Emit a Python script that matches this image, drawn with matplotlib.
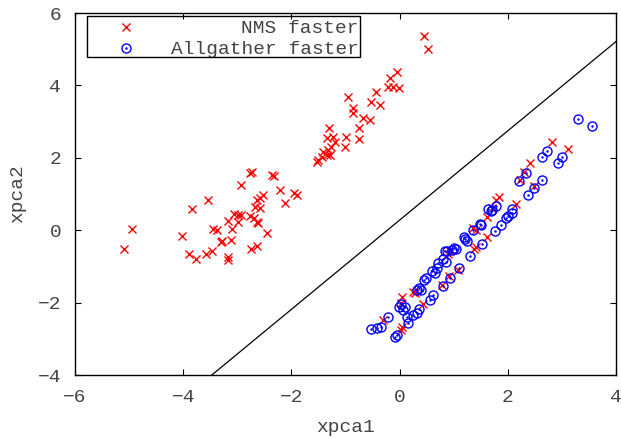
import matplotlib
matplotlib.use('Agg')
import matplotlib.pyplot as plt
from matplotlib.patches import Rectangle

# red: NMS faster
nms_x = [-5.09, -4.95, -4.02, -3.84, -3.89, -3.76, -3.54, -3.57, -3.47, -3.17,
         -3.30, -3.12, -3.45, -3.38, -3.18, -3.07, -3.09, -2.93, -2.98, -2.93,
         -2.77, -2.73, -2.36, -2.33, -2.75, -2.64, -2.77, -2.69, -2.64, -2.62,
         -2.67, -2.64, -2.59, -2.53, -2.58, -2.46, -2.22, -2.11, -1.96, -1.90,
         -1.50, -1.44, -1.35, -1.53, -1.41, -1.29, -1.32, -1.26, -1.35, -1.23,
         -1.19, -1.30, -1.01, -0.99, -0.76, -0.76, -0.67, -0.55, -0.87, -0.87,
         -0.95, -0.52, -0.36, -0.44, -0.21, -0.12, -0.02, -0.18, -0.05, 0.45,
         0.52, -3.17, -3.29, -2.98,
         2.82, 3.12, 2.41, 2.29, 2.23, 2.48, 2.16, 1.84, 1.79, 1.70,
         1.61, 1.61, 1.35, 1.41, 1.42, 1.38, 0.93, 0.90, 1.08, 0.92,
         0.78, 0.44, 0.28, 0.25, 0.04, 0.03, 0.04, 0.02, -0.30]
nms_y = [-0.51, 0.03, -0.16, 0.58, -0.67, -0.80, 0.83, -0.66, -0.57, -0.82,
         -0.32, -0.27, 0.03, 0.01, 0.25, 0.45, 0.03, 0.41, 0.23, 1.26,
         1.59, 1.62, 1.52, 1.51, -0.53, -0.43, 0.40, 0.33, 0.23, 0.19,
         0.65, 0.83, 0.88, 0.97, 0.61, -0.09, 1.11, 0.76, 1.02, 0.97,
         1.94, 2.03, 2.08, 1.89, 2.17, 2.08, 2.22, 2.31, 2.54, 2.57,
         2.44, 2.81, 2.31, 2.58, 2.51, 2.81, 3.09, 3.04, 3.37, 3.25,
         3.67, 3.55, 3.46, 3.81, 3.95, 3.96, 3.92, 4.20, 4.38, 5.36,
         5.01, -0.75, -0.30, 0.41,
         2.43, 2.23, 1.85, 1.62, 1.39, 1.22, 0.72, 0.93, 0.83, 0.60,
         0.37, -0.18, 0.05, 0.01, -0.46, -0.53, -0.58, -0.67, -1.11, -1.27,
         -1.51, -2.04, -1.73, -1.70, -1.84, -2.02, -2.67, -2.76, -2.48]

# blue: Allgather faster
ag_x = [3.29, 3.55, 2.72, 2.64, 2.92, 3.01, 2.34, 2.21, 2.63, 2.49,
        2.38, 2.07, 2.07, 1.97, 1.87, 1.77, 1.78, 1.68, 1.64, 1.49,
        1.36, 1.19, 1.52, 1.31, 1.04, 0.96, 0.88, 0.86, 0.80, 0.71,
        1.10, 0.93, 0.81, 0.62, 0.57, 0.36, 0.32, 0.25, 0.59, 0.65,
        0.49, 0.45, 0.35, 0.32, 0.02, 0.06, -0.02, 0.13, 0.16, -0.09,
        -0.05, -0.21, -0.42, -0.52, -0.34, 1.20, 1.50, 1.00, 0.70, 0.40,
        0.10, 1.70, 2.00, 0.84, 1.25]
ag_y = [3.07, 2.89, 2.20, 2.03, 1.86, 2.01, 1.59, 1.36, 1.39, 1.17,
        0.97, 0.58, 0.47, 0.33, 0.14, -0.01, 0.67, 0.54, 0.58, 0.17,
        0.01, -0.20, -0.38, -0.71, -0.52, -0.55, -0.57, -0.87, -0.80, -0.90,
        -1.05, -1.33, -1.53, -1.79, -1.93, -2.19, -2.30, -2.34, -1.12, -1.17,
        -1.33, -1.38, -1.61, -1.65, -2.04, -2.20, -2.11, -2.39, -2.57, -2.94,
        -2.90, -2.41, -2.71, -2.74, -2.68, -0.24, 0.15, -0.50, -1.05, -1.65,
        -2.12, 0.55, 0.40, -0.58, -0.30]

# separating line y = slope * x + intercept
line_slope = 1.233
line_intercept = 0.28

x_ticks = [-6, -4, -2, 0, 2, 4]
y_ticks = [-4, -2, 0, 2, 4, 6]

plt.rcParams['font.family'] = 'Liberation Mono'
plt.rcParams['font.size'] = 14

txt_col = '#444444'

fig = plt.figure(figsize=(6.21, 4.38), dpi=100)
ax = fig.add_axes([0.1208, 0.1438, 0.8712, 0.8265])

ax.axline((0, line_intercept), slope=line_slope, color='black', lw=0.9)
ax.plot(nms_x, nms_y, linestyle='none', marker='x', color='red',
        markersize=6, markeredgewidth=1.0)
ax.plot(ag_x, ag_y, linestyle='none', marker='o', fillstyle='none',
        color='blue', markersize=6.5, markeredgewidth=1.0)
ax.plot(ag_x, ag_y, linestyle='none', marker='.', color='blue', markersize=1.5)

ax.set_xlim(-6, 4)
ax.set_ylim(-4, 6)
ax.set_xticks(x_ticks)
ax.set_yticks(y_ticks)
ax.tick_params(direction='in', top=True, right=True, length=4, pad=10,
               color='black', labelcolor=txt_col)
for s in ax.spines.values():
    s.set_linewidth(1.0)
ax.set_xlabel('xpca1', color=txt_col, labelpad=9.5)
ax.set_ylabel('xpca2', color=txt_col, labelpad=8)

# gnuplot-style key: right aligned text, marker on the left
ax.add_patch(Rectangle((0.022, 0.878), 0.505, 0.114, transform=ax.transAxes,
                       fill=False, edgecolor='black', lw=1.0, zorder=5))
ax.plot([0.094], [0.962], transform=ax.transAxes, marker='x', color='red',
        markersize=6, markeredgewidth=1.0, clip_on=False)
ax.plot([0.094], [0.904], transform=ax.transAxes, marker='o', fillstyle='none',
        color='blue', markersize=6.5, markeredgewidth=1.0, clip_on=False)
ax.plot([0.094], [0.904], transform=ax.transAxes, marker='.', color='blue',
        markersize=1.5, clip_on=False)
ax.text(0.524, 0.945, 'NMS faster', transform=ax.transAxes, ha='right',
        va='baseline', color=txt_col)
ax.text(0.524, 0.888, 'Allgather faster', transform=ax.transAxes, ha='right',
        va='baseline', color=txt_col)

fig.savefig('out.png', dpi=100)
